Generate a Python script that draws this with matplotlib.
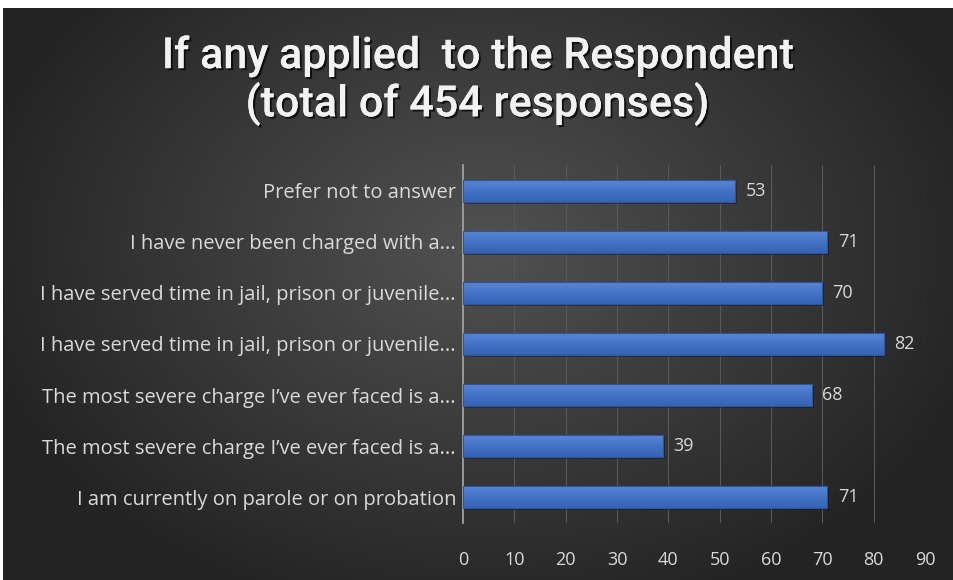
import numpy as np
import matplotlib
matplotlib.use("Agg")
from matplotlib import pyplot as plt
from matplotlib import patheffects as pe
from matplotlib.colors import LinearSegmentedColormap

# Survey answers, top to bottom as shown
labels = [
    "Prefer not to answer",
    "I have never been charged with a...",
    "I have served time in jail, prison or juvenile...",
    "I have served time in jail, prison or juvenile...",
    "The most severe charge I\u2019ve ever faced is a...",
    "The most severe charge I\u2019ve ever faced is a...",
    "I am currently on parole or on probation",
]
counts = [53, 71, 70, 82, 68, 39, 71]
x_ticks = [0, 10, 20, 30, 40, 50, 60, 70, 80, 90]

title = "If any applied  to the Respondent\n(total of 454 responses)"
text_col = "#d9d9d9"
bar_col = "#4472C4"

W, H = 954, 580
fig = plt.figure(figsize=(W / 100, H / 100), dpi=100)
fig.patch.set_facecolor("white")

# dark radial background panel
bg = fig.add_axes([3 / W, 0, 1 - 3 / W, 1 - 8 / H])
bg.set_axis_off()
yy, xx = np.mgrid[0:572, 0:951]
d = np.sqrt(((xx - 480) / 520.0) ** 2 + ((yy - 240) / 380.0) ** 2)
shade = np.clip(0.32 - 0.18 * d, 0.14, 0.4)
bg.imshow(np.dstack([shade] * 3), aspect="auto", interpolation="bilinear")

fig.text(0.5, 1 - 81 / H, title, ha="center", va="center", color="#f2f2f2",
         fontsize=31, family="Roboto", fontweight="medium",
         linespacing=1.15,
         path_effects=[pe.withSimplePatchShadow(offset=(1.5, -1.5), shadow_rgbFace="black", alpha=0.7),
                       pe.Normal()])

ax = fig.add_axes([463 / W, 1 - 523 / H, (925 - 463) / W, (523 - 165) / H])
ax.patch.set_alpha(0)
ypos = np.arange(len(labels))

# soft shadow behind each bar
ax.barh(ypos + 0.04, counts, height=0.43, left=0.3, color="black", alpha=0.35, zorder=2)
bars = ax.barh(ypos, counts, height=0.43, color=bar_col, edgecolor="#2f5597", linewidth=0.8, zorder=3)

# light-to-dark fill inside each bar (y axis is inverted, so row 0 sits on top)
bar_cmap = LinearSegmentedColormap.from_list("barfill", ["#5a86d6", "#4472C4", "#3763b5"])
grad = np.linspace(0, 1, 64).reshape(-1, 1)
for b in bars:
    x0, y0 = b.get_x(), b.get_y()
    im = ax.imshow(grad, cmap=bar_cmap, aspect="auto", zorder=3.5,
                   extent=[x0, x0 + b.get_width(), y0, y0 + b.get_height()],
                   origin="lower")
    im.set_clip_path(b)
ax.barh(ypos, counts, height=0.43, facecolor="none", edgecolor="#2f5597", linewidth=0.8, zorder=4)

for y, v in zip(ypos, counts):
    ax.text(v + 2, y, str(v), va="center", ha="left", color=text_col,
            fontsize=13, family="Open Sans")

ax.set_xlim(0, 90)
ax.set_ylim(len(labels) - 0.5, -0.5)
ax.set_aspect("auto")
ax.set_xticks(x_ticks)
ax.set_yticks(ypos)
ax.set_yticklabels(labels, family="Open Sans", fontsize=14.5, color=text_col)
ax.set_xticklabels([str(t) for t in x_ticks], family="Open Sans", fontsize=13, color=text_col)
ax.tick_params(length=0)
ax.tick_params(axis="y", pad=5)
ax.tick_params(axis="x", pad=20)
ax.grid(axis="x", color="#585858", linewidth=0.8, zorder=0)
for s in ["top", "right", "bottom"]:
    ax.spines[s].set_visible(False)
ax.spines["left"].set_color("#a6a6a6")
ax.spines["left"].set_linewidth(1.2)

fig.savefig("out.png", dpi=100)
